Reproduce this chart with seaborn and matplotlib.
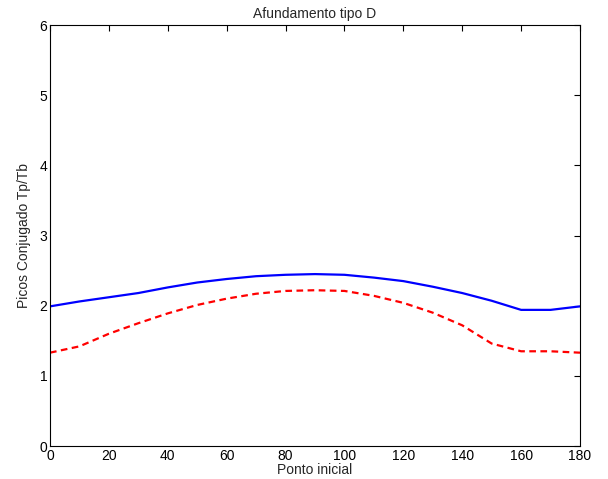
import matplotlib
matplotlib.use("Agg")
import matplotlib.pyplot as plt
import seaborn as sns
import pandas as pd

sns.set_style("white")
plt.rcParams["font.family"] = ["Liberation Sans", "DejaVu Sans"]

ponto_inicial = [0, 10, 20, 30, 40, 50, 60, 70, 80, 90,
                 100, 110, 120, 130, 140, 150, 160, 170, 180]
picos_azul = [1.99, 2.06, 2.12, 2.18, 2.26, 2.33, 2.38, 2.42, 2.44, 2.45,
              2.44, 2.40, 2.35, 2.27, 2.18, 2.07, 1.94, 1.94, 1.99]
picos_vermelho = [1.33, 1.42, 1.60, 1.75, 1.89, 2.01, 2.10, 2.17, 2.21, 2.22,
                  2.21, 2.14, 2.04, 1.90, 1.72, 1.46, 1.35, 1.35, 1.33]

df = pd.DataFrame({"x": ponto_inicial, "azul": picos_azul, "vermelho": picos_vermelho})

fig = plt.figure(figsize=(6.08, 4.79), dpi=100)
ax = fig.add_axes([50 / 608, 33 / 479, 530 / 608, 421 / 479])

sns.lineplot(data=df, x="x", y="azul", ax=ax, color="#0000ff", lw=1.6)
sns.lineplot(data=df, x="x", y="vermelho", ax=ax, color="#ff0000", lw=1.6,
             linestyle=(0, (3, 2)))

ax.set_xlim(0, 180)
ax.set_ylim(0, 6)
ax.set_xticks(range(0, 181, 20))
ax.set_yticks(range(0, 7))
ax.tick_params(direction="in", top=True, right=True, length=4, width=0.8,
               labelsize=10, pad=2, colors="black")
for s in ax.spines.values():
    s.set_color("black")
    s.set_linewidth(0.8)
    s.set_visible(True)

ax.set_title("Afundamento tipo D", fontsize=10, pad=5)
ax.set_xlabel("Ponto inicial", fontsize=10, labelpad=0)
ax.set_ylabel("Picos Conjugado Tp/Tb", fontsize=10, labelpad=6)

fig.savefig("out.png", dpi=100, facecolor="white")
